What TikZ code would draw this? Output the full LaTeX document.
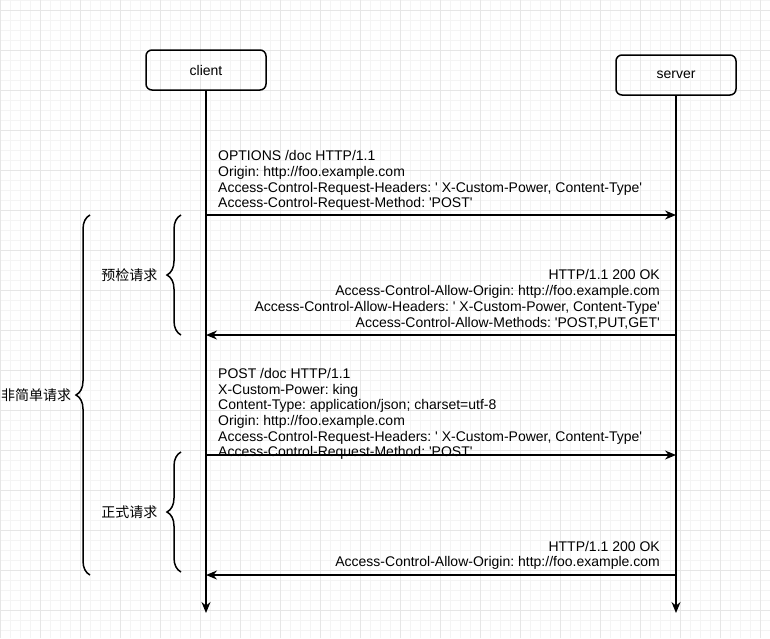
\documentclass[tikz,border=0pt]{standalone}
\usepackage{fontspec}
\setmainfont{Liberation Sans}[Ligatures=TeXOff]
\newfontfamily\cjk{Noto Sans CJK SC}
\usetikzlibrary{arrows.meta,decorations.pathreplacing,positioning}

\definecolor{gridminor}{HTML}{F4F4F4}
\definecolor{gridmajor}{HTML}{E6E6E6}

\tikzset{
  actor/.style={draw,line width=1.5pt,rounded corners=6pt,minimum width=120pt,
    minimum height=40pt,font=\fontsize{14}{16}\selectfont},
  lifeline/.style={line width=1.5pt,-{Stealth[length=11pt,width=9pt]}},
  msg/.style={line width=1.5pt,-{Stealth[length=11pt,width=9pt]}},
  head/.style={inner sep=0pt,font=\frenchspacing\fontsize{14}{15.7}\selectfont},
  grp/.style={decorate,decoration={brace,amplitude=14pt},line width=1.5pt},
  grplabel/.style={inner sep=0pt,font=\cjk\fontsize{14}{16}\selectfont}
}

\begin{document}
\begin{tikzpicture}[x=1pt,y=-1pt]
\useasboundingbox (0,0) rectangle (770,638);
% grid
\begin{scope}[shift={(0,10)}]
  \draw[gridminor,step=10pt] (0,-10) grid (770,628);
  \draw[gridmajor,step=40pt] (0,-10) grid (770,628);
\end{scope}

% actors and lifelines
\node[actor] (client) at (206,70) {client};
\node[actor] (server) at (676,75) {server};
\coordinate (clientend) at (client |- 0,613);
\coordinate (serverend) at (server |- 0,613);
\draw[lifeline] (client) -- (clientend);
\draw[lifeline] (server) -- (serverend);

\foreach \n/\y in {1/215,2/335,3/455,4/575}{
  \coordinate (c\n) at (client |- 0,\y);
  \coordinate (s\n) at (server |- 0,\y);
}

% messages
\draw[msg] (c1) -- (s1);
\draw[msg] (s2) -- (c2);
\draw[msg] (c3) -- (s3);
\draw[msg] (s4) -- (c4);

\node[head,align=left,anchor=south west] (options) at (218,211)
  {OPTIONS /doc HTTP/1.1\\
   Origin: http://foo.example.com\\
   Access-Control-Request-Headers: ' X-Custom-Power, Content-Type'\\
   Access-Control-Request-Method: 'POST'};
\node[head,align=right,anchor=south east] (preok) at (660,329)
  {HTTP/1.1 200 OK\\
   Access-Control-Allow-Origin: http://foo.example.com\\
   Access-Control-Allow-Headers: ' X-Custom-Power, Content-Type'\\
   Access-Control-Allow-Methods: 'POST,PUT,GET'};
\node[head,align=left,anchor=south west] (post) at (218,460)
  {POST /doc HTTP/1.1\\
   X-Custom-Power: king\\
   Content-Type: application/json; charset=utf-8\\
   Origin: http://foo.example.com\\
   Access-Control-Request-Headers: ' X-Custom-Power, Content-Type'\\
   Access-Control-Request-Method: 'POST'};
\node[head,align=right,anchor=south east] (postok) at (660,570)
  {HTTP/1.1 200 OK\\
   Access-Control-Allow-Origin: http://foo.example.com};

% groups
\draw[grp] (90,575) -- node[grplabel,left=18pt] (nonsimple) {非简单请求} (90,215);
\draw[grp] (181,335) -- node[grplabel,left=23pt] (preflight) {预检请求} (181,215);
\draw[grp] (181,572) -- node[grplabel,left=23pt] (actual) {正式请求} (181,452);
\end{tikzpicture}
\end{document}
